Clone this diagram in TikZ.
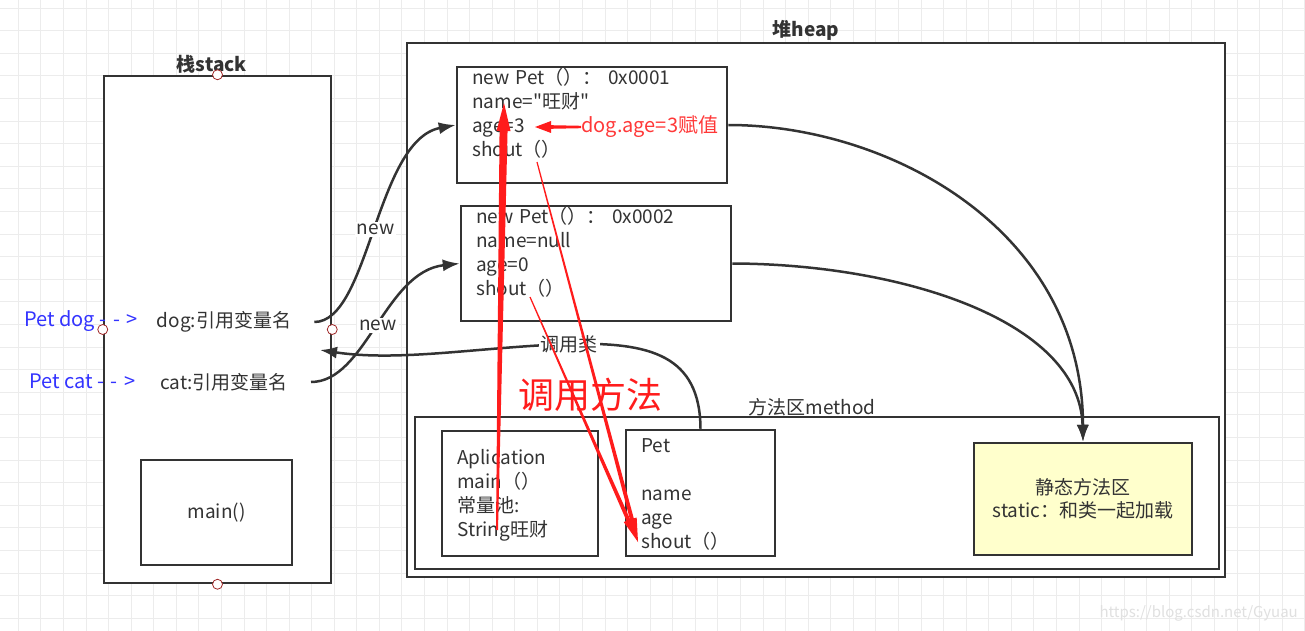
\documentclass[tikz,border=0pt]{standalone}
\usepackage{fontspec}
\setmainfont{Noto Sans CJK SC}[Ligatures=TeXOff]
\usetikzlibrary{calc,arrows.meta}

\definecolor{ink}{RGB}{51,51,51}
\definecolor{gridgray}{RGB}{236,236,236}
\definecolor{penred}{RGB}{255,28,28}
\definecolor{notered}{RGB}{255,56,56}
\definecolor{petblue}{RGB}{51,51,255}
\definecolor{portred}{RGB}{160,40,40}
\definecolor{staticfill}{RGB}{255,255,204}

% tapered red pen stroke: from, to, half width at start, half width at head, head length, head half width
\newcommand{\taperarrow}[6]{%
  \coordinate (tah) at ($(#2)!#5!(#1)$);
  \fill[penred] ($(#1)!#3!90:(#2)$) -- ($(tah)!#4!90:(#2)$) -- ($(tah)!#6!90:(#2)$) -- (#2)
    -- ($(tah)!#6!-90:(#2)$) -- ($(tah)!#4!-90:(#2)$) -- ($(#1)!#3!-90:(#2)$) -- cycle;}

\begin{document}
\begin{tikzpicture}[x=1pt,y=-1pt]
  \tikzset{gridline/.style={draw=gridgray,line width=1pt}}
  \tikzset{box/.style={draw=ink,line width=2.5pt,fill=white,inner sep=0pt}}
  \tikzset{txt/.style={text=ink,font=\fontsize{19}{24}\selectfont,inner sep=0pt}}
  \tikzset{title/.style={txt,font=\bfseries\fontsize{19}{24}\selectfont,anchor=base}}
  \tikzset{listtext/.style={txt,align=left,text width=#1,anchor=base west}}
  \tikzset{port/.style={circle,draw=portred,fill=white,line width=0.8pt,minimum size=10pt,inner sep=0pt}}
  \tikzset{conn/.style={draw=ink,line width=2.5pt,-{Latex[length=17pt,width=12pt]}}}
  \tikzset{lbl/.style={txt,fill=white,inner sep=2pt}}

  \fill[white] (0,0) rectangle (1305,631);
  \useasboundingbox (0,0) rectangle (1305,631);
  \foreach \i in {0,...,57} \draw[gridline] ({18.3+22.57*\i},0) -- ({18.3+22.57*\i},631);
  \foreach \j in {0,...,27} \draw[gridline] (0,{8.1+22.6*\j}) -- (1305,{8.1+22.6*\j});

  % stack
  \node[box,minimum width=227pt,minimum height=507pt] (stack) at (217.5,329.5) {};
  \node[title] (stacktitle) at (212,72) {栈stack};
  \node[txt] (dog) at (224,322) {dog:引用变量名};
  \node[txt] (cat) at (224,382) {cat:引用变量名};
  \node[box,txt,minimum width=151pt,minimum height=105pt] (mainbox) at (216.5,512.5) {main()};
  \node[txt,text=petblue,anchor=west,font=\fontsize{20}{24}\selectfont] (petdog) at (24,321) {Pet dog -\,\,-\,\,>};
  \node[txt,text=petblue,anchor=west,font=\fontsize{20}{24}\selectfont] (petcat) at (29,381) {Pet cat -\,\,-\,\,>};

  % heap
  \node[box,minimum width=818pt,minimum height=534pt] (heap) at (816,310) {};
  \node[title] (heaptitle) at (806,37) {堆heap};
  \node[box,minimum width=270pt,minimum height=116pt] (obj1) at (592,125) {};
  \node[listtext=250pt] (obj1txt) at (472,85) {new Pet（）： 0x0001\\name="旺财"\\age=3\\shout（）};
  \node[box,minimum width=270pt,minimum height=115pt] (obj2) at (596,263.5) {};
  \node[listtext=250pt] (obj2txt) at (476,223) {new Pet（）： 0x0002\\name=null\\age=0\\shout（）};

  % method area
  \node[box,minimum width=804pt,minimum height=152pt] (method) at (817,493) {};
  \node[txt,anchor=base] (methodtitle) at (812,414) {方法区method};
  \node[box,minimum width=156pt,minimum height=125pt] (appbox) at (520,493.5) {};
  \node[listtext=140pt] (apptxt) at (457,464) {Aplication\\main（）\\常量池:\\String旺财};
  \node[box,minimum width=149pt,minimum height=126pt] (petbox) at (700.5,493) {};
  \node[listtext=130pt] (pettxt) at (641,452) {Pet\\[24pt]name\\age\\shout（）};
  \node[box,fill=staticfill,txt,align=center,font=\fontsize{19}{23}\selectfont,
        minimum width=218pt,minimum height=112pt] (static) at (1083,499) {静态方法区\\static：和类一起加载};

  % connectors
  \draw[conn] ([xshift=23pt]dog.east) .. controls +(55,0) and +(-80,15) .. (obj1.west)
    node[lbl,pos=0.5] (new1) {new};
  \draw[conn] ([xshift=23pt]cat.east) .. controls +(55,0) and +(-75,8) .. (obj2.west)
    node[lbl,pos=0.5] (new2) {new};
  \coordinate (callin) at (320,350);
  \draw[conn] (petbox.north) .. controls (700,355) and (650,342) .. (569,344) node[lbl] (callclass) {调用类}
    .. controls (480,347) and (400,362) .. (callin);
  \draw[conn] (obj1.east) .. controls (890,125) and (1083,230) .. (static.north);
  \draw[conn] (obj2.east) .. controls (900,264) and (1080,320) .. (static.north);

  \node[port] (porttop) at (stack.north) {};
  \node[port] (portbottom) at (stack.south) {};
  \node[port] (portleft) at (stack.west) {};
  \node[port] (portright) at (stack.east) {};

  % red pen notes
  \node[txt,text=notered,anchor=west,font=\fontsize{20}{24}\selectfont] (assign) at (581,127) {dog.age=3赋值};
  \node[txt,text=penred,font=\fontsize{36}{40}\selectfont] (callmethod) at (590,395) {调用方法};
  \coordinate (poolsrc) at (497,530);
  \coordinate (nameval) at (504,103);
  \coordinate (ageval) at (535,127);
  \coordinate (shout1) at (537,162);
  \coordinate (shout2) at (530,297);
  \coordinate (petshout) at (638,542);
  \taperarrow{poolsrc}{nameval}{1pt}{4pt}{28pt}{7pt}
  \taperarrow{assign.west}{ageval}{1.2pt}{1.8pt}{16pt}{6pt}
  \taperarrow{shout1}{petshout}{0.6pt}{2pt}{24pt}{5pt}
  \taperarrow{shout2}{petshout}{0.6pt}{2pt}{24pt}{5pt}

  \node[txt,text=black!12,font=\fontsize{15}{18}\selectfont,anchor=east] (mark) at (1298,613) {https://blog.csdn.net/Gyuau};
\end{tikzpicture}
\end{document}
